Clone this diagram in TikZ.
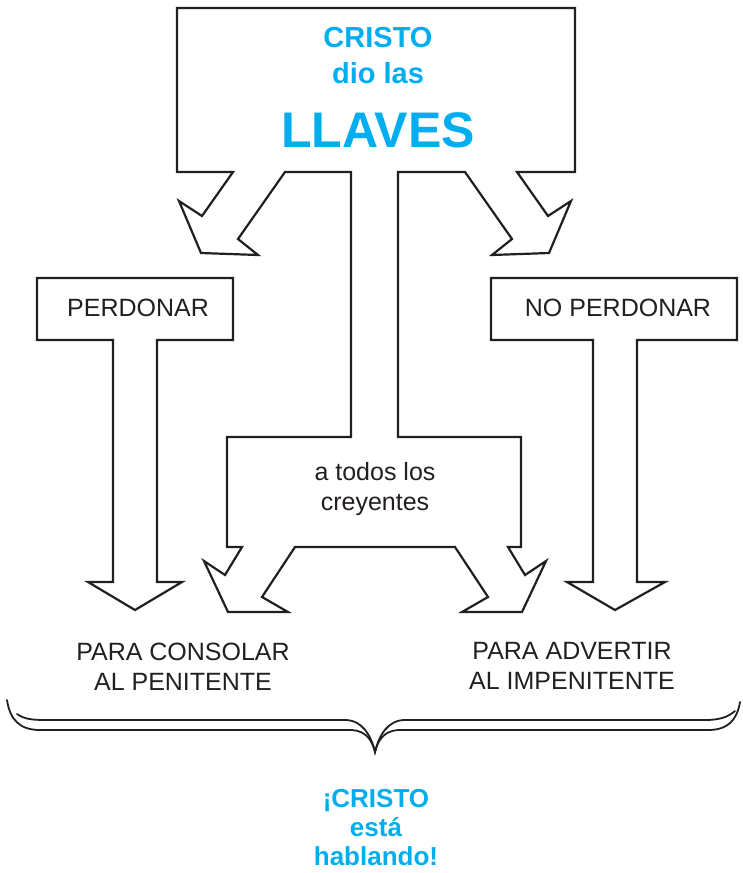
\documentclass[tikz,border=0pt]{standalone}
\usepackage{fontspec}
\setmainfont{Liberation Sans}
\definecolor{ink}{HTML}{231F20}
\definecolor{sky}{HTML}{00AEEF}
\tikzset{keyshape/.style={draw=ink,fill=white,line width=2.2pt,line join=miter},
 keybrace/.style={draw=ink,line width=1.8pt,line cap=round},
 keytext/.style={text=ink,align=center,inner sep=0pt,font=\fontsize{25}{30}\selectfont},
 skytext/.style={text=sky,align=center,inner sep=0pt,font=\bfseries\fontsize{29}{35}\selectfont}}

\begin{document}
\begin{tikzpicture}[x=1pt,y=-1pt]
\useasboundingbox (0,0) rectangle (742,873);
% top box with its three arrows and the open box below
\draw[keyshape] (177,8) -- (575,8) -- (575,172) -- (517,172) -- (548,216) -- (571,201) -- (549,253)
 -- (492,255) -- (512,239) -- (465,172) -- (398,172) -- (398,437) -- (521,437) -- (521,547)
 -- (508,547) -- (525,575) -- (546,561) -- (522,612) -- (462,612) -- (488,597) -- (455,547)
 -- (295,547) -- (262,597) -- (288,612) -- (228,612) -- (204,561) -- (225,575) -- (242,547)
 -- (227,547) -- (227,437) -- (351,437) -- (351,172) -- (285,172) -- (238,239) -- (258,255)
 -- (201,253) -- (179,201) -- (202,216) -- (233,172) -- (177,172) -- cycle;
% the two T boxes
\draw[keyshape] (37,278) -- (233,278) -- (233,340) -- (157,340) -- (157,582) -- (182,582) -- (135,610)
 -- (88,582) -- (113,582) -- (113,340) -- (37,340) -- cycle;
\draw[keyshape] (491,278) -- (737,278) -- (737,340) -- (637,340) -- (637,582) -- (665,582) -- (615,610)
 -- (567,582) -- (593,582) -- (593,340) -- (491,340) -- cycle;
% brace
\draw[keybrace] (7,700) .. controls (10,720) and (20,730) .. (40,730) -- (352,730)
 .. controls (366,731) and (372,740) .. (375,752) .. controls (378,740) and (384,731) .. (398,730)
 -- (708,730) .. controls (728,730) and (737,720) .. (740,702);
\draw[keybrace] (17,714) .. controls (24,719) and (32,720) .. (45,720) -- (345,720)
 .. controls (362,720) and (371,735) .. (375,752) .. controls (379,735) and (388,720) .. (405,720)
 -- (705,720) .. controls (720,720) and (728,717) .. (735,711);
\node[skytext,anchor=base] (cristo) at (378,47) {CRISTO};
\node[skytext,anchor=base] (diolas) at (378,83) {dio las};
\node[skytext,anchor=base,font=\bfseries\fontsize{50}{50}\selectfont] (llaves) at (378,147) {LLAVES};
\node[keytext,anchor=base] (perdonar) at (138,316) {PERDONAR};
\node[keytext,anchor=base] (noperdonar) at (618,316) {NO PERDONAR};
\node[keytext] (creyentes) at (375,489) {a todos los\\creyentes};
\node[keytext] (consolar) at (183,667) {PARA CONSOLAR\\AL PENITENTE};
\node[keytext] (advertir) at (572,666) {PARA ADVERTIR\\AL IMPENITENTE};
\node[skytext,font=\bfseries\fontsize{26}{29}\selectfont] (hablando) at (376,828) {¡CRISTO\\está\\hablando!};
\end{tikzpicture}
\end{document}
